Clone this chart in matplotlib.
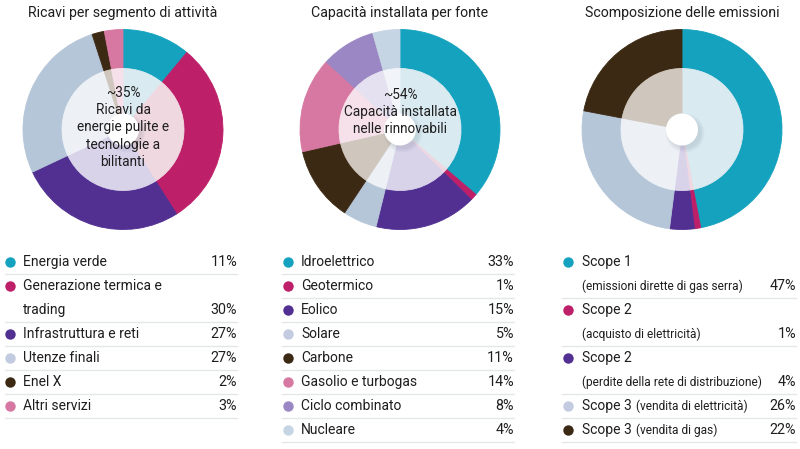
import matplotlib
matplotlib.use("Agg")
import matplotlib.pyplot as plt
from matplotlib.patches import Circle

plt.rcParams['font.family'] = ['Roboto', 'DejaVu Sans']

# ---- data ----
rev_title = "Ricavi per segmento di attività"
rev_labels = [["Energia verde"], ["Generazione termica e", "trading"],
              ["Infrastruttura e reti"], ["Utenze finali"], ["Enel X"], ["Altri servizi"]]
rev_values = [11, 30, 27, 27, 2, 3]
rev_center = "~35%\nRicavi da\nenergie pulite e\ntecnologie a\nbilitanti"

cap_title = "Capacità installata per fonte"
cap_labels = [["Idroelettrico"], ["Geotermico"], ["Eolico"], ["Solare"], ["Carbone"],
              ["Gasolio e turbogas"], ["Ciclo combinato"], ["Nucleare"]]
cap_values = [33, 1, 15, 5, 11, 14, 8, 4]
cap_center = "~54%\nCapacità installata\nnelle rinnovabili"

emi_title = "Scomposizione delle emissioni"
emi_main = ["Scope 1", "Scope 2", "Scope 2", "Scope 3", "Scope 3"]
emi_sub = ["(emissioni dirette di gas serra)", "(acquisto di elettricità)",
           "(perdite della rete di distribuzione)", "(vendita di elettricità)",
           "(vendita di gas)"]
emi_values = [47, 1, 4, 26, 22]

# ---- colours ----
TEAL, MAG, PURP, LBLUE, BROWN, PINK, LAV, NUC = (
    "#14a2be", "#bd1f68", "#513092", "#b5c6d8", "#3b2914", "#d678a1", "#9a87c3", "#c6d5e3")
inner_of = {TEAL: "#d9eaf1", MAG: "#f0d8e1", PURP: "#d9d3ea", LBLUE: "#edf1f6",
            BROWN: "#cfc6bd", PINK: "#f6e1ea", LAV: "#e6e1f0", NUC: "#f1f4f8"}
rev_colors = [TEAL, MAG, PURP, LBLUE, BROWN, PINK]
cap_colors = [TEAL, MAG, PURP, LBLUE, BROWN, PINK, LAV, NUC]
emi_colors = [TEAL, MAG, PURP, LBLUE, BROWN]
dot_colors = {LBLUE: "#c3cbe0"}

W, H = 800, 449
TXT = "#1e1e1e"
fig = plt.figure(figsize=(W / 100, H / 100), dpi=100)


def donut(cx, cy, values, colors, center_text=None, text_y=0.0):
    r = 100
    ax = fig.add_axes([(cx - r) / W, (H - cy - r) / H, 2 * r / W, 2 * r / H])
    kw = dict(startangle=90, counterclock=False)
    w1, _ = ax.pie(values, radius=1.0, colors=colors,
                   wedgeprops=dict(width=0.39, linewidth=0.6), **kw)
    w2, _ = ax.pie(values, radius=0.61, colors=[inner_of[c] for c in colors],
                   wedgeprops=dict(width=0.61, linewidth=0.6), **kw)
    for w in w1 + w2:
        w.set_edgecolor(w.get_facecolor())
    # soft drop shadow under the white hub
    for i in range(5):
        ax.add_patch(Circle((0.03, -0.035), 0.155 + 0.01 * i, color="#5a6a7a",
                            alpha=0.035, lw=0, zorder=5))
    ax.add_patch(Circle((0, 0), 0.16, color="white", lw=0, zorder=6))
    if center_text:
        ax.text(0, text_y, center_text, ha="center", va="center", fontsize=9.8,
                color=TXT, linespacing=1.28, zorder=7)
    ax.set_xlim(-1, 1)
    ax.set_ylim(-1, 1)
    ax.axis("off")
    return ax


donut(123, 129.5, rev_values, rev_colors, rev_center, 0.02)
donut(400, 129.5, cap_values, cap_colors, cap_center, 0.175)
donut(682, 129.5, emi_values, emi_colors)

ov = fig.add_axes([0, 0, 1, 1])
ov.set_xlim(0, W)
ov.set_ylim(H, 0)
ov.axis("off")

for title, x in [(rev_title, 123), (cap_title, 400), (emi_title, 682)]:
    ov.text(x, 13, title, ha="center", va="center", fontsize=10.2, color=TXT)


def legend(lines_list, values, colors, xdot, xtxt, xpct, xsep0, y0=262, step=24):
    y = y0
    for lines, v, c in zip(lines_list, values, colors):
        ov.plot(xdot, y, "o", ms=7.5, color=dot_colors.get(c, c), mec="none")
        for j, ln in enumerate(lines):
            ov.text(xtxt, y + j * step, ln, ha="left", va="center", fontsize=10, color=TXT)
        ylast = y + (len(lines) - 1) * step
        ov.text(xpct, ylast, f"{v}%", ha="right", va="center", fontsize=10.3, color=TXT)
        ov.plot([xsep0, xpct], [ylast + 11.5] * 2, color="#e4e6ea", lw=1)
        y = ylast + step


legend(rev_labels, rev_values, rev_colors, 10, 23, 237, 5)
legend(cap_labels, cap_values, cap_colors, 288, 301, 514, 282)

# emissions legend: first three have the note on a second line
y = 262
for k, (m, s, v, c) in enumerate(zip(emi_main, emi_sub, emi_values, emi_colors)):
    ov.plot(568, y, "o", ms=7.5, color=dot_colors.get(c, c), mec="none")
    ov.text(582, y, m, ha="left", va="center", fontsize=10, color=TXT)
    if k < 3:
        y += 24
        ov.text(582, y, s, ha="left", va="center", fontsize=8.6, color=TXT)
    else:
        ov.text(636, y, s, ha="left", va="center", fontsize=8.6, color=TXT)
    ov.text(796, y, f"{v}%", ha="right", va="center", fontsize=10.3, color=TXT)
    ov.plot([562, 796], [y + 11.5] * 2, color="#e4e6ea", lw=1)
    y += 24

fig.savefig("out.png", dpi=100)
